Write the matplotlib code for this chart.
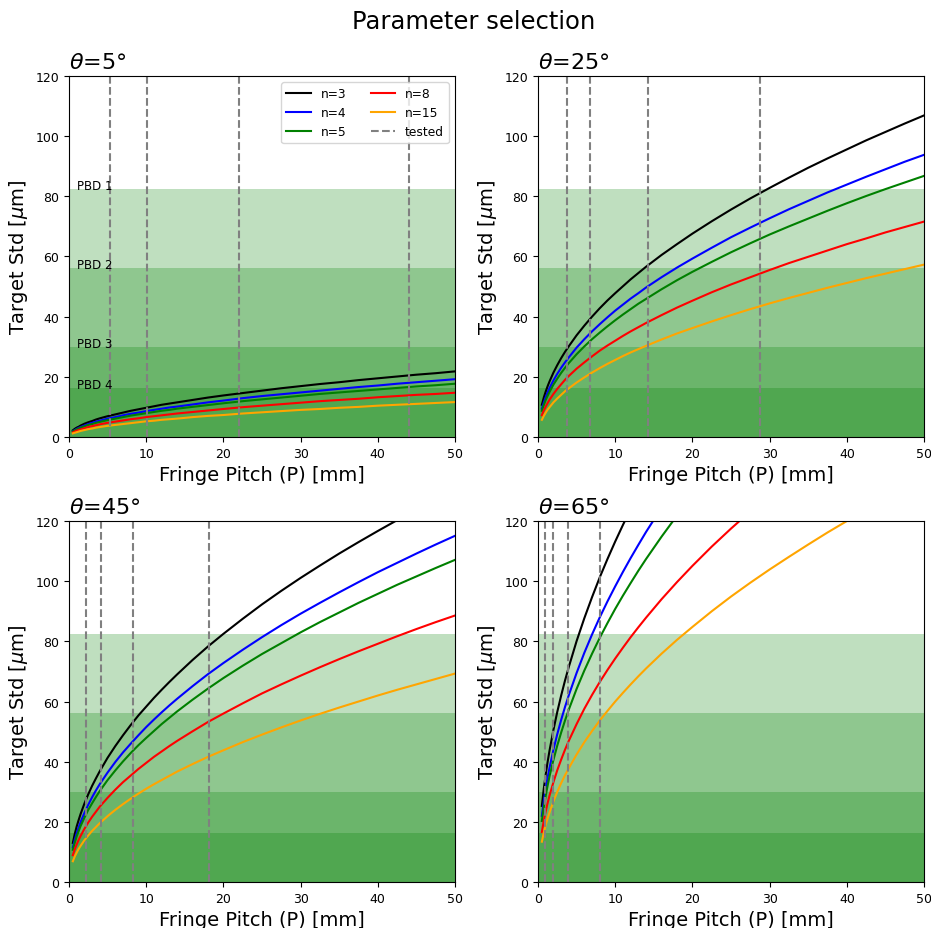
import numpy as np
import matplotlib
matplotlib.use("Agg")
import matplotlib.pyplot as plt

# Abscisas leidas (Fringe Pitch en mm)
pitch = [0.5, 0.75, 1, 1.25, 1.5, 2, 2.5, 3, 3.5, 4, 5, 6, 7, 8, 9, 10, 11, 12, 13, 14,
         16, 18, 20, 22.5, 25, 27.5, 30, 32.5, 35, 37.5, 40, 42.5, 45, 47.5, 50]

n_labels = ["n=3", "n=4", "n=5", "n=8", "n=15"]
n_colors = ["black", "blue", "green", "red", "orange"]

thetas = [5, 25, 45, 65]

# theta = 5
std_t5 = [
    [2.2, 2.7, 3.1, 3.4, 3.8, 4.4, 4.9, 5.3, 5.8, 6.2, 6.9, 7.5, 8.1, 8.7, 9.2, 9.7, 10.2, 10.7, 11.1, 11.5,
     12.3, 13.1, 13.8, 14.6, 15.4, 16.2, 16.9, 17.6, 18.2, 18.9, 19.5, 20.1, 20.7, 21.2, 21.8],
    [1.9, 2.3, 2.7, 3.0, 3.3, 3.8, 4.3, 4.7, 5.1, 5.4, 6.1, 6.6, 7.2, 7.7, 8.1, 8.6, 9.0, 9.4, 9.8, 10.1,
     10.8, 11.5, 12.1, 12.9, 13.6, 14.2, 14.8, 15.4, 16.0, 16.6, 17.1, 17.7, 18.2, 18.7, 19.2],
    [1.8, 2.2, 2.5, 2.8, 3.1, 3.5, 4.0, 4.3, 4.7, 5.0, 5.6, 6.1, 6.6, 7.1, 7.5, 7.9, 8.3, 8.7, 9.0, 9.4,
     10.0, 10.6, 11.2, 11.9, 12.5, 13.1, 13.7, 14.3, 14.8, 15.3, 15.8, 16.3, 16.8, 17.2, 17.7],
    [1.5, 1.8, 2.1, 2.3, 2.5, 2.9, 3.3, 3.6, 3.9, 4.2, 4.7, 5.1, 5.5, 5.9, 6.2, 6.6, 6.9, 7.2, 7.5, 7.8,
     8.3, 8.8, 9.3, 9.9, 10.4, 10.9, 11.4, 11.9, 12.3, 12.7, 13.2, 13.6, 14.0, 14.3, 14.7],
    [1.2, 1.4, 1.6, 1.8, 2.0, 2.3, 2.6, 2.8, 3.1, 3.3, 3.7, 4.0, 4.3, 4.6, 4.9, 5.2, 5.4, 5.7, 5.9, 6.1,
     6.6, 7.0, 7.3, 7.8, 8.2, 8.6, 9.0, 9.3, 9.7, 10.0, 10.4, 10.7, 11.0, 11.3, 11.6],
]
# theta = 25
std_t25 = [
    [10.7, 13.1, 15.1, 16.9, 18.5, 21.4, 23.9, 26.2, 28.3, 30.2, 33.8, 37.0, 40.0, 42.8, 45.4, 47.8, 50.1, 52.4, 54.5, 56.6,
     60.5, 64.1, 67.6, 71.7, 75.6, 79.3, 82.8, 86.2, 89.5, 92.6, 95.6, 98.6, 101.4, 104.2, 106.9],
    [9.4, 11.5, 13.3, 14.8, 16.3, 18.8, 21.0, 23.0, 24.8, 26.5, 29.7, 32.5, 35.1, 37.5, 39.8, 42.0, 44.0, 46.0, 47.8, 49.7,
     53.1, 56.3, 59.3, 62.9, 66.4, 69.6, 72.7, 75.7, 78.5, 81.3, 83.9, 86.5, 89.0, 91.5, 93.8],
    [8.7, 10.6, 12.3, 13.7, 15.0, 17.4, 19.4, 21.3, 23.0, 24.6, 27.5, 30.1, 32.5, 34.7, 36.8, 38.8, 40.7, 42.5, 44.3, 45.9,
     49.1, 52.1, 54.9, 58.2, 61.4, 64.4, 67.3, 70.0, 72.6, 75.2, 77.7, 80.1, 82.4, 84.6, 86.8],
    [7.2, 8.8, 10.1, 11.3, 12.4, 14.3, 16.0, 17.5, 19.0, 20.3, 22.7, 24.8, 26.8, 28.7, 30.4, 32.0, 33.6, 35.1, 36.5, 37.9,
     40.5, 43.0, 45.3, 48.1, 50.7, 53.1, 55.5, 57.8, 59.9, 62.0, 64.1, 66.0, 68.0, 69.8, 71.6],
    [5.7, 7.0, 8.1, 9.1, 9.9, 11.5, 12.8, 14.0, 15.2, 16.2, 18.1, 19.8, 21.4, 22.9, 24.3, 25.6, 26.9, 28.1, 29.2, 30.3,
     32.4, 34.4, 36.2, 38.4, 40.5, 42.5, 44.4, 46.2, 47.9, 49.6, 51.2, 52.8, 54.3, 55.8, 57.3],
]
# theta = 45
std_t45 = [
    [13.0, 16.0, 18.5, 20.6, 22.6, 26.1, 29.2, 32.0, 34.5, 36.9, 41.3, 45.2, 48.8, 52.2, 55.4, 58.3, 61.2, 63.9, 66.5, 69.0,
     73.8, 78.3, 82.5, 87.5, 92.3, 96.8, 101.1, 105.2, 109.2, 113.0, 116.7, 120.3, 123.8, 127.2, 130.5],
    [11.5, 14.1, 16.3, 18.2, 19.9, 23.0, 25.7, 28.2, 30.5, 32.6, 36.4, 39.9, 43.1, 46.0, 48.8, 51.5, 54.0, 56.4, 58.7, 60.9,
     65.1, 69.1, 72.8, 77.2, 81.4, 85.4, 89.2, 92.8, 96.3, 99.7, 103.0, 106.1, 109.2, 112.2, 115.1],
    [10.7, 13.1, 15.2, 16.9, 18.6, 21.4, 24.0, 26.2, 28.3, 30.3, 33.9, 37.1, 40.1, 42.9, 45.5, 47.9, 50.2, 52.5, 54.6, 56.7,
     60.6, 64.3, 67.8, 71.9, 75.8, 79.4, 83.0, 86.4, 89.6, 92.8, 95.8, 98.8, 101.6, 104.4, 107.1],
    [8.9, 10.9, 12.5, 14.0, 15.3, 17.7, 19.8, 21.7, 23.4, 25.1, 28.0, 30.7, 33.2, 35.4, 37.6, 39.6, 41.6, 43.4, 45.2, 46.9,
     50.1, 53.2, 56.0, 59.4, 62.7, 65.7, 68.6, 71.4, 74.1, 76.7, 79.2, 81.7, 84.1, 86.4, 88.6],
    [6.9, 8.5, 9.8, 11.0, 12.0, 13.9, 15.5, 17.0, 18.3, 19.6, 21.9, 24.0, 25.9, 27.7, 29.4, 31.0, 32.5, 33.9, 35.3, 36.7,
     39.2, 41.6, 43.8, 46.5, 49.0, 51.4, 53.7, 55.9, 58.0, 60.0, 62.0, 63.9, 65.7, 67.5, 69.3],
]
# theta = 65
std_t65 = [
    [25.3, 31.0, 35.8, 40.0, 43.8, 50.6, 56.6, 62.0, 67.0, 71.6, 80.1, 87.7, 94.7, 101.3, 107.4, 113.2, 118.7, 124.0, 129.1, 134.0,
     143.2, 151.9, 160.1, 169.8, 179.0, 187.7, 196.1, 204.1, 211.8, 219.2, 226.4, 233.4, 240.2, 246.7, 253.1],
    [22.0, 26.9, 31.1, 34.8, 38.1, 44.0, 49.2, 53.9, 58.2, 62.2, 69.5, 76.2, 82.3, 88.0, 93.3, 98.3, 103.1, 107.7, 112.1, 116.4,
     124.4, 131.9, 139.1, 147.5, 155.5, 163.1, 170.3, 177.3, 184.0, 190.4, 196.7, 202.7, 208.6, 214.3, 219.9],
    [20.3, 24.9, 28.7, 32.1, 35.2, 40.6, 45.4, 49.7, 53.7, 57.4, 64.2, 70.3, 75.9, 81.2, 86.1, 90.8, 95.2, 99.4, 103.5, 107.4,
     114.8, 121.8, 128.4, 136.1, 143.5, 150.5, 157.2, 163.6, 169.8, 175.8, 181.5, 187.1, 192.5, 197.8, 202.9],
    [16.6, 20.4, 23.5, 26.3, 28.8, 33.2, 37.2, 40.7, 44.0, 47.0, 52.5, 57.6, 62.2, 66.5, 70.5, 74.3, 77.9, 81.4, 84.7, 87.9,
     94.0, 99.7, 105.1, 111.5, 117.5, 123.2, 128.7, 134.0, 139.0, 143.9, 148.6, 153.2, 157.6, 162.0, 166.2],
    [13.4, 16.4, 19.0, 21.2, 23.2, 26.8, 30.0, 32.9, 35.5, 37.9, 42.4, 46.5, 50.2, 53.7, 56.9, 60.0, 62.9, 65.7, 68.4, 71.0,
     75.9, 80.5, 84.8, 90.0, 94.9, 99.5, 103.9, 108.1, 112.2, 116.2, 120.0, 123.7, 127.3, 130.7, 134.1],
]
std_all = [std_t5, std_t25, std_t45, std_t65]

# Pitches probados (lineas verticales)
tested = [
    [5.3, 10.1, 22.0, 44.0],
    [3.7, 6.8, 14.2, 28.8],
    [2.2, 4.2, 8.3, 18.2],
    [0.9, 1.9, 3.9, 8.0],
]

# Limites de las bandas PBD
pbd_labels = ["PBD 1", "PBD 2", "PBD 3", "PBD 4"]
pbd_limits = [82.5, 56.2, 30.0, 16.2]

fig, axes = plt.subplots(2, 2, figsize=(9.31, 9.29), dpi=100)
fig.subplots_adjust(left=0.0741, right=0.9925, top=0.9171, bottom=0.0495,
                    wspace=0.215, hspace=0.233)
fig.suptitle("Parameter selection", fontsize=17.5, x=0.509, y=0.9685, va="baseline")

for i, ax in enumerate(axes.flat):
    for lim in pbd_limits:
        ax.axhspan(0, lim, color="green", alpha=0.25, lw=0)
    for j in range(len(n_labels)):
        ax.plot(pitch, std_all[i][j], color=n_colors[j], label=n_labels[j], lw=1.5)
    for k, p in enumerate(tested[i]):
        ax.axvline(p, color="gray", ls="--", lw=1.5,
                   label="tested" if k == 0 else None)
    if i == 0:
        for lab, lim in zip(pbd_labels, pbd_limits):
            ax.text(1, lim, lab, fontsize=8.5)
        ax.legend(ncol=2, loc="upper right", fontsize=8.8)
    ax.set_xlim(0, 50)
    ax.set_ylim(0, 120)
    ax.set_title(r"$\theta$=%d°" % thetas[i], loc="left", fontsize=16)
    ax.set_xlabel("Fringe Pitch (P) [mm]", fontsize=14)
    ax.set_ylabel(r"Target Std [$\mu$m]", fontsize=14)
    ax.tick_params(labelsize=9)

plt.savefig("out.png", dpi=100)
